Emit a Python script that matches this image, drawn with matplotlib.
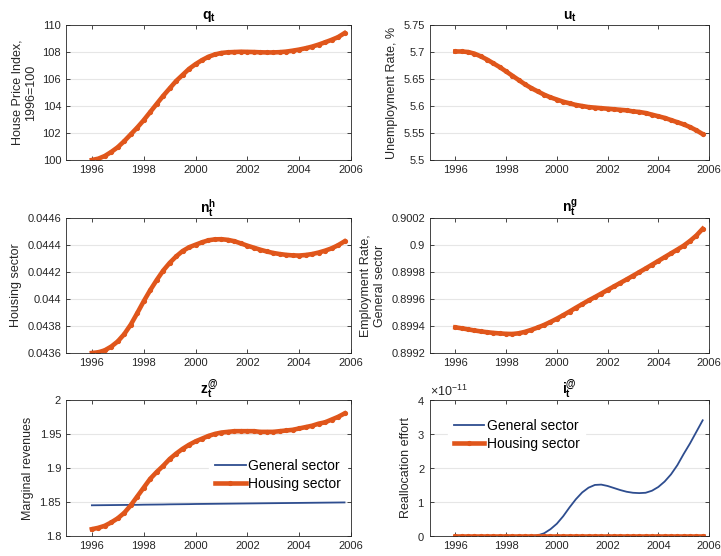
import numpy as np
import matplotlib
matplotlib.use('Agg')
import matplotlib.pyplot as plt
from matplotlib.ticker import FuncFormatter, ScalarFormatter

plt.rcParams['font.family'] = ['Liberation Sans', 'DejaVu Sans']
plt.rcParams['mathtext.fontset'] = 'custom'
plt.rcParams['mathtext.rm'] = 'Liberation Sans'
plt.rcParams['mathtext.bf'] = 'Liberation Sans:bold'
plt.rcParams['mathtext.it'] = 'Liberation Sans:italic'

# quarterly time axis 1996Q1 .. 2005Q4
years = np.arange(1996, 2006, 0.25)

q_t = [100.0, 100.1, 100.3, 100.6, 100.95, 101.4, 101.9, 102.4,
       102.95, 103.55, 104.15, 104.75, 105.3, 105.85, 106.3, 106.75,
       107.1, 107.4, 107.65, 107.82, 107.93, 107.98, 108.0, 108.02,
       108.01, 108.0, 107.98, 107.97, 107.97, 107.99, 108.03, 108.1,
       108.18, 108.28, 108.4, 108.55, 108.72, 108.9, 109.1, 109.4]

u_t = [5.701, 5.701, 5.700, 5.697, 5.692, 5.686, 5.679, 5.672,
       5.664, 5.656, 5.648, 5.640, 5.633, 5.627, 5.621, 5.616,
       5.612, 5.608, 5.605, 5.602, 5.600, 5.598, 5.597, 5.596,
       5.595, 5.594, 5.593, 5.592, 5.590, 5.589, 5.587, 5.584,
       5.581, 5.578, 5.574, 5.570, 5.566, 5.561, 5.555, 5.548]

n_h = [0.043600, 0.043605, 0.043620, 0.043648, 0.043686, 0.043740, 0.043810, 0.043895,
       0.043983, 0.044065, 0.044140, 0.044210, 0.044267, 0.044315, 0.044355, 0.044383,
       0.044402, 0.044420, 0.044435, 0.044442, 0.044443, 0.044438, 0.044428, 0.044412,
       0.044395, 0.044380, 0.044365, 0.044352, 0.044341, 0.044333, 0.044327, 0.044323,
       0.044322, 0.044326, 0.044333, 0.044344, 0.044358, 0.044375, 0.044398, 0.044427]

n_g = [0.899390, 0.899383, 0.899375, 0.899367, 0.899360, 0.899354, 0.899349, 0.899345,
       0.899342, 0.899341, 0.899346, 0.899357, 0.899372, 0.899389, 0.899408, 0.899430,
       0.899454, 0.899480, 0.899507, 0.899535, 0.899562, 0.899589, 0.899614, 0.899640,
       0.899667, 0.899693, 0.899719, 0.899745, 0.899772, 0.899799, 0.899826, 0.899854,
       0.899882, 0.899910, 0.899938, 0.899966, 0.899995, 0.900030, 0.900070, 0.900120]

z_housing = [1.810, 1.812, 1.815, 1.820, 1.826, 1.834, 1.845, 1.858,
             1.871, 1.884, 1.894, 1.903, 1.913, 1.921, 1.928, 1.934,
             1.939, 1.943, 1.947, 1.950, 1.952, 1.953, 1.954, 1.954,
             1.954, 1.954, 1.953, 1.953, 1.953, 1.954, 1.955, 1.956,
             1.958, 1.960, 1.962, 1.965, 1.967, 1.971, 1.975, 1.980]

z_general = [1.8451, 1.8452, 1.8453, 1.8454, 1.8455, 1.8456, 1.8457, 1.8458,
             1.8460, 1.8461, 1.8462, 1.8463, 1.8465, 1.8466, 1.8467, 1.8468,
             1.8470, 1.8471, 1.8472, 1.8473, 1.8474, 1.8475, 1.8476, 1.8477,
             1.8478, 1.8479, 1.8480, 1.8481, 1.8482, 1.8483, 1.8484, 1.8485,
             1.8486, 1.8487, 1.8488, 1.8489, 1.8490, 1.8491, 1.8492, 1.8493]

# reallocation effort, units of 1e-11
i_general = [0, 0, 0, 0, 0, 0, 0, 0,
             0, 0, 0, 0, 0, 0.02, 0.08, 0.2,
             0.36, 0.58, 0.84, 1.08, 1.28, 1.42, 1.50, 1.51,
             1.47, 1.41, 1.35, 1.30, 1.27, 1.26, 1.27, 1.33,
             1.44, 1.60, 1.81, 2.08, 2.41, 2.72, 3.06, 3.40]
i_housing = [0.0] * 40

BLUE = '#2E4D8F'
ORANGE = '#E0561B'
xticks = [1996, 1998, 2000, 2002, 2004, 2006]

fig = plt.figure(figsize=(7.21, 5.56), dpi=100)

left_x, right_x = 0.0915, 0.5964
w_l, w_r = 0.3953, 0.3870
rows = [0.7122, 0.3651, 0.036]
h = 0.2428


def style(ax, ylim, yticks, title, ylabel):
    ax.set_xlim(1995, 2006)
    ax.set_ylim(*ylim)
    ax.set_xticks(xticks)
    ax.set_yticks(yticks)
    ax.yaxis.set_major_formatter(FuncFormatter(lambda v, p: '%g' % round(v, 6)))
    ax.tick_params(direction='in', top=True, right=True, length=3,
                   labelsize=8, colors='#262626', width=0.6)
    for s in ax.spines.values():
        s.set_color('#262626')
        s.set_linewidth(0.6)
    ax.grid(axis='y', color='#E6E6E6', linewidth=0.8)
    ax.set_axisbelow(True)
    ax.set_title(title, fontsize=10, pad=4)
    ax.set_ylabel(ylabel, fontsize=9, color='#262626')


def housing(ax, y, label=None):
    ax.plot(years, y, color=ORANGE, lw=3.3, marker='.', ms=5.5, label=label)


ax1 = fig.add_axes([left_x, rows[0], w_l, h])
housing(ax1, q_t)
style(ax1, (100, 110), [100, 102, 104, 106, 108, 110], r'$\mathbf{q_t}$',
      'House Price Index,\n1996=100')

ax2 = fig.add_axes([right_x, rows[0], w_r, h])
housing(ax2, u_t)
style(ax2, (5.5, 5.75), [5.5, 5.55, 5.6, 5.65, 5.7, 5.75], r'$\mathbf{u_t}$',
      'Unemployment Rate, %')

ax3 = fig.add_axes([left_x, rows[1], w_l, h])
housing(ax3, n_h)
style(ax3, (0.0436, 0.0446), [0.0436, 0.0438, 0.044, 0.0442, 0.0444, 0.0446],
      r'$\mathbf{n_t^h}$', 'Housing sector')

ax4 = fig.add_axes([right_x, rows[1], w_r, h])
housing(ax4, n_g)
style(ax4, (0.8992, 0.9002), [0.8992, 0.8994, 0.8996, 0.8998, 0.9, 0.9002],
      r'$\mathbf{n_t^g}$', 'Employment Rate,\nGeneral sector')

ax5 = fig.add_axes([left_x, rows[2], w_l, h + 0.002])
ax5.plot(years, z_general, color=BLUE, lw=1.3, label='General sector')
housing(ax5, z_housing, 'Housing sector')
style(ax5, (1.8, 2.0), [1.8, 1.85, 1.9, 1.95, 2.0], r'$\mathbf{z_t^{@}}$',
      'Marginal revenues')
ax5.legend(loc='center right', bbox_to_anchor=(1.0, 0.45), fontsize=10,
           frameon=True, edgecolor='white', framealpha=1, fancybox=False,
           handlelength=2.2, handletextpad=0.2, borderaxespad=0.3,
           labelspacing=0.3)

ax6 = fig.add_axes([right_x, rows[2], w_r, h + 0.002])
ax6.plot(years, np.array(i_general) * 1e-11, color=BLUE, lw=1.3, label='General sector')
ax6.plot(years, np.array(i_housing) * 1e-11, color=ORANGE, lw=3.3, marker='.', ms=5.5,
         label='Housing sector')
style(ax6, (0, 4e-11), [0, 1e-11, 2e-11, 3e-11, 4e-11], r'$\mathbf{i_t^{@}}$',
      'Reallocation effort')
fmt = ScalarFormatter(useMathText=True)
fmt.set_powerlimits((0, 0))
ax6.yaxis.set_major_formatter(fmt)
ax6.yaxis.get_offset_text().set_fontsize(9)
ax6.yaxis.get_offset_text().set_color('#262626')
ax6.legend(loc='upper left', bbox_to_anchor=(0.05, 0.93), fontsize=10,
           frameon=True, edgecolor='white', framealpha=1, fancybox=False,
           handlelength=2.2, handletextpad=0.2, borderaxespad=0.3,
           labelspacing=0.3)

fig.savefig('out.png', dpi=100)
